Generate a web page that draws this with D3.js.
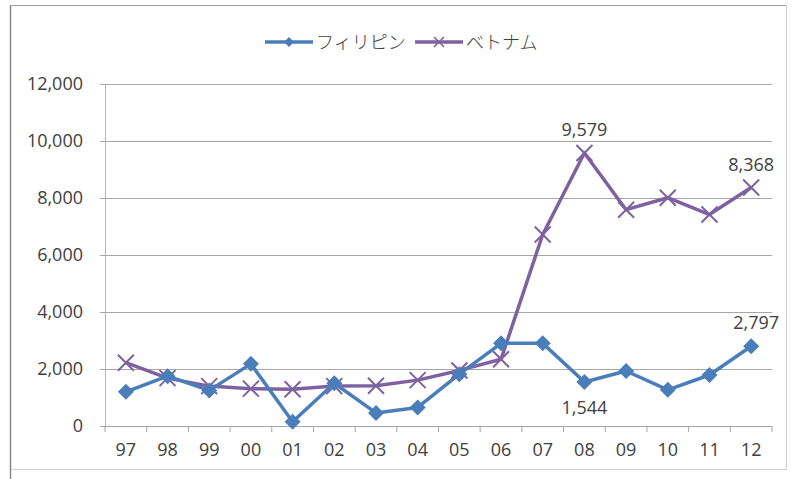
<!DOCTYPE html>
<html>
<head>
<meta charset="utf-8">
<script src="https://cdn.jsdelivr.net/npm/d3@7"></script>
<style>
  body { margin: 0; background: #fff; }
  text { font-family: "Open Sans", "Noto Sans CJK JP", sans-serif; fill: #404040; }
</style>
</head>
<body>
<div id="chart"></div>
<script>
const years = ["97", "98", "99", "00", "01", "02", "03", "04", "05", "06", "07", "08", "09", "10", "11", "12"];
const philippines = [1200, 1750, 1250, 2180, 150, 1500, 460, 650, 1820, 2900, 2900, 1544, 1930, 1270, 1790, 2797];
const vietnam = [2220, 1680, 1400, 1310, 1290, 1400, 1410, 1610, 1950, 2340, 6720, 9579, 7590, 8010, 7420, 8368];
const yTicks = [0, 2000, 4000, 6000, 8000, 10000, 12000];
const seriesNames = ["フィリピン", "ベトナム"];
// labelled points: [series, index, position]
const callouts = [[1, 11, "above"], [1, 15, "above"], [0, 11, "below"], [0, 15, "above"]];

const W = 795, H = 479;
const margin = {top: 84, right: 23, bottom: 53, left: 105};
const width = W - margin.left - margin.right;
const height = H - margin.top - margin.bottom;

const svg = d3.select("#chart").append("svg")
    .attr("width", W)
    .attr("height", H);

// outer frame
svg.append("rect")
    .attr("x", 10.5).attr("y", 5.5)
    .attr("width", 776).attr("height", 464)
    .attr("fill", "#fff")
    .attr("stroke", "#d0d0d0");
svg.append("line")
    .attr("x1", 10.5).attr("x2", 10.5)
    .attr("y1", 5).attr("y2", H)
    .attr("stroke", "#8a8a8a").attr("stroke-width", 1.5);
svg.append("line")
    .attr("x1", 10).attr("x2", 786)
    .attr("y1", 5.5).attr("y2", 5.5)
    .attr("stroke", "#a0a0a0");

const g = svg.append("g")
    .attr("transform", `translate(${margin.left}, ${margin.top})`);

const x = d3.scaleBand().domain(years).range([0, width]);
const y = d3.scaleLinear().domain([0, 12000]).range([height, 0]);
const cx = d => x(d) + x.bandwidth() / 2;

// gridlines
g.selectAll(".grid")
    .data(yTicks.filter(t => t > 0))
    .enter().append("line")
    .attr("x1", 0).attr("x2", width)
    .attr("y1", d => y(d) + 0.5).attr("y2", d => y(d) + 0.5)
    .attr("stroke", "#a6a6a6");

// y axis
const yAxis = g.append("g")
    .call(d3.axisLeft(y).tickValues(yTicks).tickSize(5).tickPadding(17)
        .tickFormat(d3.format(",")));
yAxis.select(".domain").attr("stroke", "#b5b5b5");
yAxis.selectAll(".tick line").attr("stroke", "#a6a6a6");
yAxis.selectAll("text").attr("font-size", 18).attr("fill", "#404040");

// x axis with ticks between categories
const xAxis = g.append("g")
    .attr("transform", `translate(0, ${height})`)
    .call(d3.axisBottom(x).tickSize(0).tickPadding(17));
xAxis.select(".domain").remove();
xAxis.selectAll("text").attr("font-size", 18).attr("fill", "#404040");
xAxis.append("line")
    .attr("x1", 0).attr("x2", width)
    .attr("y1", 0.5).attr("y2", 0.5)
    .attr("stroke", "#a6a6a6");
xAxis.selectAll(".sep")
    .data(d3.range(years.length + 1))
    .enter().append("line")
    .attr("x1", i => i * x.bandwidth()).attr("x2", i => i * x.bandwidth())
    .attr("y1", 0).attr("y2", 6)
    .attr("stroke", "#a6a6a6");

const colors = ["#4a7ebb", "#7e62a0"];
const line = d3.line().x((d, i) => cx(years[i])).y(d => y(d));

// vietnam first, philippines above
[vietnam, philippines].forEach((vals, k) => {
    const idx = k === 0 ? 1 : 0;
    g.append("path")
        .datum(vals)
        .attr("d", line)
        .attr("fill", "none")
        .attr("stroke", colors[idx])
        .attr("stroke-width", 3.5)
        .attr("stroke-linejoin", "round");
});

// vietnam X markers
g.selectAll(".vx")
    .data(vietnam)
    .enter().append("path")
    .attr("transform", (d, i) => `translate(${cx(years[i])}, ${y(d)})`)
    .attr("d", "M-8,-8L8,8M-8,8L8,-8")
    .attr("stroke", colors[1])
    .attr("stroke-width", 2);

// philippines diamond markers
g.selectAll(".pd")
    .data(philippines)
    .enter().append("path")
    .attr("transform", (d, i) => `translate(${cx(years[i])}, ${y(d)})`)
    .attr("d", "M0,-8L8,0L0,8L-8,0Z")
    .attr("fill", colors[0]);

// data labels
const dataSets = [philippines, vietnam];
g.selectAll(".callout")
    .data(callouts)
    .enter().append("text")
    .attr("x", d => cx(years[d[1]]) + (d[1] === 15 && d[0] === 0 ? 5 : 0))
    .attr("y", d => y(dataSets[d[0]][d[1]]) + (d[2] === "above" ? -17 : 32))
    .attr("text-anchor", "middle")
    .attr("font-size", 18)
    .text(d => d3.format(",")(dataSets[d[0]][d[1]]));

// legend
const legend = svg.append("g").attr("transform", "translate(265, 42)");
const legendX = [0, 150];
seriesNames.forEach((name, i) => {
    const lg = legend.append("g").attr("transform", `translate(${legendX[i]}, 0)`);
    lg.append("line")
        .attr("x1", 0).attr("x2", 48)
        .attr("stroke", colors[i]).attr("stroke-width", 3.5);
    if (i === 0) {
        lg.append("path").attr("d", "M24,-5L29,0L24,5L19,0Z").attr("fill", colors[i]);
    } else {
        lg.append("path").attr("d", "M19,-5L29,5M19,5L29,-5")
            .attr("stroke", colors[i]).attr("stroke-width", 1.5);
    }
    lg.append("text")
        .attr("x", 51).attr("y", 7)
        .attr("font-size", 18)
        .attr("font-family", "'Noto Sans CJK JP', sans-serif")
        .attr("font-weight", 300)
        .text(name);
});
</script>
</body>
</html>
